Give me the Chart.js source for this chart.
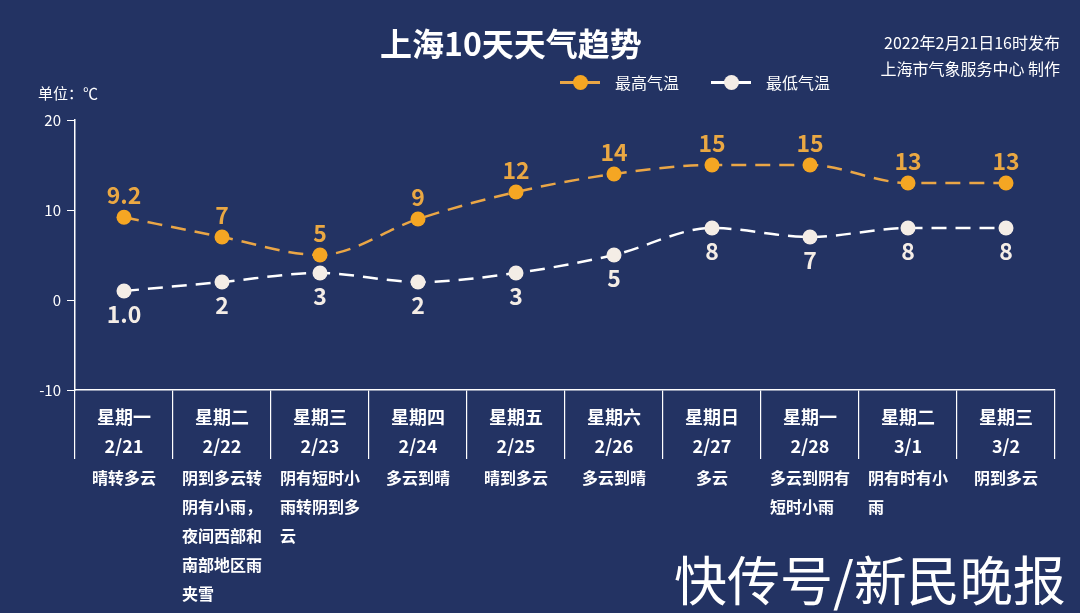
<!DOCTYPE html>
<html>
<head>
<meta charset="utf-8">
<script src="https://cdn.jsdelivr.net/npm/chart.js@4/dist/chart.umd.min.js"></script>
<style>
  body { margin: 0; background: #233363; }
  #wrap { position: relative; width: 1080px; height: 613px; overflow: hidden;
    font-family: "Noto Sans CJK SC", "Noto Sans", sans-serif; color: #fff; }
  #chart { position: absolute; left: 0; top: 0; }
  .title { position: absolute; left: 0; width: 1022px; top: 19px; text-align: center;
    font-size: 32px; font-weight: bold; line-height: 46px; }
  .issued { position: absolute; right: 20px; top: 29px; text-align: right;
    font-size: 16px; line-height: 26px; }
  .unit { position: absolute; left: 38px; top: 82px; font-size: 15px; line-height: 22px; }
  #legend { position: absolute; left: 560px; top: 70px; height: 24px; display: flex; align-items: center;
    font-size: 16px; }
  .item { display: flex; align-items: center; margin-right: 32px; }
  .mark { position: relative; width: 40px; height: 15px; margin-right: 15px; }
  .mark .ln { position: absolute; left: 0; top: 6px; width: 40px; height: 3px; }
  .mark .dot { position: absolute; left: 12.5px; top: 0; width: 15px; height: 15px; border-radius: 50%; }
  .watermark { position: absolute; left: 674px; top: 545px; font-size: 53px; line-height: 66px; }
</style>
</head>
<body>
<div id="wrap">
  <canvas id="chart" width="1080" height="613"></canvas>
  <div class="title">上海10天天气趋势</div>
  <div class="issued">2022年2月21日16时发布<br>上海市气象服务中心 制作</div>
  <div class="unit">单位：℃</div>
  <div id="legend"></div>
  <div class="watermark">快传号/新民晚报</div>
</div>
<script>
// ten day forecast, Shanghai
const weekdays = ["星期一", "星期二", "星期三", "星期四", "星期五", "星期六", "星期日", "星期一", "星期二", "星期三"];
const dates = ["2/21", "2/22", "2/23", "2/24", "2/25", "2/26", "2/27", "2/28", "3/1", "3/2"];
const weather = ["晴转多云", "阴到多云转阴有小雨，夜间西部和南部地区雨夹雪", "阴有短时小雨转阴到多云", "多云到晴", "晴到多云",
  "多云到晴", "多云", "多云到阴有短时小雨", "阴有时有小雨", "阴到多云"];
const highTemps = [9.2, 7, 5, 9, 12, 14, 15, 15, 13, 13];
const lowTemps = [1.0, 2, 3, 2, 3, 5, 8, 7, 8, 8];
const highText = ["9.2", "7", "5", "9", "12", "14", "15", "15", "13", "13"];
const lowText = ["1.0", "2", "3", "2", "3", "5", "8", "7", "8", "8"];
const yTicks = [-10, 0, 10, 20];

const fontFamily = "'Noto Sans CJK SC', 'Noto Sans', sans-serif";
const highColor = "#f5a623";
const highLine = "#eaa646";
const lowColor = "#f4ede6";

// value labels above / below points, weather text under the axis
const labelPlugin = {
  id: "tempLabels",
  afterDatasetsDraw(chart) {
    const ctx = chart.ctx;
    ctx.save();
    ctx.font = "bold 23px " + fontFamily;
    ctx.textAlign = "center";
    ctx.textBaseline = "middle";
    chart.getDatasetMeta(0).data.forEach((pt, i) => {
      ctx.fillStyle = "#eaa843";
      ctx.fillText(highText[i], pt.x, pt.y - 22);
    });
    chart.getDatasetMeta(1).data.forEach((pt, i) => {
      ctx.fillStyle = lowColor;
      ctx.fillText(lowText[i], pt.x, pt.y + 23);
    });
    ctx.restore();
  },
  afterDraw(chart) {
    const ctx = chart.ctx;
    const xScale = chart.scales.x;
    ctx.save();
    ctx.font = "bold 16px " + fontFamily;
    ctx.fillStyle = "#ffffff";
    ctx.textBaseline = "middle";
    ctx.textAlign = "left";
    weather.forEach((text, i) => {
      const lines = [];
      const chars = Array.from(text);
      for (let k = 0; k < chars.length; k += 5) lines.push(chars.slice(k, k + 5).join(""));
      const w = Math.max(...lines.map((l) => ctx.measureText(l).width));
      const cx = xScale.getPixelForValue(i);
      lines.forEach((l, j) => {
        ctx.fillText(l, cx - w / 2, 478 + j * 29);
      });
    });
    ctx.restore();
  },
};

const chart = new Chart(document.getElementById("chart"), {
  type: "line",
  data: {
    labels: weekdays.map((d, i) => [d, dates[i]]),
    datasets: [
      {
        label: "最高气温",
        data: highTemps,
        borderColor: highLine,
        backgroundColor: highColor,
        pointBackgroundColor: highColor,
        pointBorderWidth: 0,
        pointRadius: 7.5,
        borderWidth: 2.5,
        borderDash: [15, 9],
        cubicInterpolationMode: "monotone",
      },
      {
        label: "最低气温",
        data: lowTemps,
        borderColor: "#ffffff",
        backgroundColor: lowColor,
        pointBackgroundColor: lowColor,
        pointBorderWidth: 0,
        pointRadius: 7.5,
        borderWidth: 2.5,
        borderDash: [15, 9],
        cubicInterpolationMode: "monotone",
      },
    ],
  },
  options: {
    responsive: false,
    animation: false,
    layout: { padding: { top: 120, right: 25, left: 0, bottom: 0 } },
    plugins: {
      legend: { display: false },
      title: { display: false },
      tooltip: { enabled: false },
    },
    scales: {
      x: {
        offset: true,
        border: { color: "#ffffff", width: 1.5 },
        grid: { offset: true, drawOnChartArea: false, color: "#ffffff", tickLength: 69, lineWidth: 1.2 },
        ticks: {
          color: "#ffffff",
          padding: -56,
          font: { family: fontFamily, size: 18, weight: "bold", lineHeight: 1.6 },
          maxRotation: 0,
          autoSkip: false,
        },
        afterFit: (scale) => { scale.height = 223; },
      },
      y: {
        min: -10,
        max: 20,
        border: { color: "#ffffff", width: 1.5 },
        grid: { drawOnChartArea: false, color: "#ffffff", tickLength: 8 },
        afterBuildTicks: (scale) => { scale.ticks = yTicks.map((v) => ({ value: v })); },
        ticks: {
          color: "#ffffff",
          padding: 6,
          font: { family: fontFamily, size: 15 },
        },
        afterFit: (scale) => { scale.width = 75; },
      },
    },
  },
  plugins: [labelPlugin],
});

// legend built from the datasets
const legend = document.getElementById("legend");
chart.data.datasets.forEach((ds) => {
  const item = document.createElement("div");
  item.className = "item";
  item.innerHTML = '<div class="mark"><div class="ln" style="background:' + ds.borderColor +
    '"></div><div class="dot" style="background:' + ds.pointBackgroundColor + '"></div></div>' +
    "<span>" + ds.label + "</span>";
  legend.appendChild(item);
});
</script>
</body>
</html>
